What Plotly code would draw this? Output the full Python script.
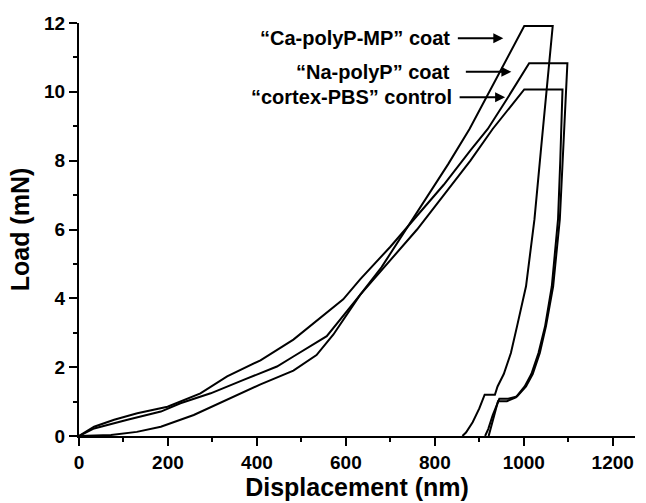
import plotly.graph_objects as go

# Ca-polyP-MP coat
ca_x = [0, 72, 130, 184, 258, 333, 408, 482, 534, 572, 632, 680, 730, 780, 830, 878, 940, 1001,
        1065, 1053, 1038, 1024, 1005, 985, 971, 955, 941, 935, 912, 900, 885, 870, 862]
ca_y = [0, 0.03, 0.12, 0.27, 0.61, 1.05, 1.5, 1.9, 2.35, 2.95, 4.1, 4.9, 5.9, 6.9, 7.9, 8.92, 10.45, 11.91,
        11.91, 10.18, 8.24, 6.3, 4.35, 3.2, 2.41, 1.8, 1.44, 1.2, 1.2, 0.8, 0.4, 0.1, 0]

# Na-polyP coat
na_x = [0, 34, 79, 131, 199, 228, 273, 333, 408, 482, 520, 594, 632, 700, 760, 820, 880, 919, 960, 1012,
        1098, 1093, 1088, 1081, 1066, 1050, 1036, 1020, 1005, 985, 965, 945, 930, 920, 913]
na_y = [0, 0.27, 0.47, 0.66, 0.85, 1.0, 1.24, 1.73, 2.2, 2.8, 3.19, 3.97, 4.55, 5.5, 6.4, 7.3, 8.3, 8.92, 9.75, 10.83,
        10.83, 9.5, 8.24, 6.3, 4.35, 3.2, 2.41, 1.8, 1.44, 1.15, 1.08, 1.08, 0.6, 0.2, 0]

# cortex-PBS control
cx_x = [0, 34, 109, 184, 228, 296, 370, 445, 482, 557, 632, 700, 760, 820, 880, 930, 1001,
        1087, 1085, 1082, 1077, 1063, 1048, 1033, 1017, 1002, 982, 962, 942, 932, 925, 921]
cx_y = [0, 0.22, 0.47, 0.71, 0.95, 1.24, 1.63, 2.02, 2.31, 2.9, 4.1, 5.1, 6.0, 7.0, 8.0, 8.92, 10.07,
        10.07, 9.0, 8.0, 6.3, 4.35, 3.2, 2.41, 1.8, 1.44, 1.12, 1.01, 1.01, 0.5, 0.15, 0]

labels = ["\u201cCa-polyP-MP\u201d coat", "\u201cNa-polyP\u201d coat", "\u201ccortex-PBS\u201d control"]
label_x = [838, 838, 842]
label_y = [11.56, 10.58, 9.84]
arrow_x = [954, 972, 958]

FONT = "Liberation Sans, Arial, sans-serif"

fig = go.Figure()
for xs, ys in [(ca_x, ca_y), (na_x, na_y), (cx_x, cx_y)]:
    fig.add_trace(go.Scatter(x=xs, y=ys, mode="lines",
                             line=dict(color="black", width=2), showlegend=False))

for t, lx, ly, axx in zip(labels, label_x, label_y, arrow_x):
    fig.add_annotation(x=lx, y=ly, xref="x", yref="y", text="<b>%s</b>" % t,
                       showarrow=False, xanchor="right", yanchor="middle",
                       font=dict(family=FONT, size=20, color="black"))
    fig.add_annotation(x=axx, y=ly, xref="x", yref="y", text="", showarrow=True,
                       ax=-47, ay=0, arrowhead=2, arrowsize=1, arrowwidth=2,
                       arrowcolor="black", standoff=0, startstandoff=0)

axis_common = dict(showline=True, linecolor="black", linewidth=2, ticks="outside",
                   tickcolor="black", tickwidth=2, ticklen=8, showgrid=False,
                   zeroline=False, mirror=False,
                   tickfont=dict(family=FONT, size=19, color="black"))

fig.update_xaxes(range=[0, 1250], dtick=200, tick0=0,
                 minor=dict(ticks="outside", dtick=100, ticklen=4, tickwidth=2, tickcolor="black"),
                 title=dict(text="<b>Displacement (nm)</b>", standoff=3,
                            font=dict(family=FONT, size=25, color="black")),
                 tickprefix="<b>", ticksuffix="</b>", **axis_common)
fig.update_yaxes(range=[0, 12], dtick=2, tick0=0,
                 minor=dict(ticks="outside", dtick=1, ticklen=4, tickwidth=2, tickcolor="black"),
                 title=dict(text="<b>Load (mN)</b>", standoff=7,
                            font=dict(family=FONT, size=25, color="black")),
                 tickprefix="<b>", ticksuffix="</b>", **axis_common)

fig.update_layout(width=646, height=503, margin=dict(l=79, r=11, t=23, b=67),
                  paper_bgcolor="white", plot_bgcolor="white")

fig.write_html("out.html", config={"displayModeBar": False},
               post_script="document.body.style.margin='0';document.body.style.overflow='hidden';")
